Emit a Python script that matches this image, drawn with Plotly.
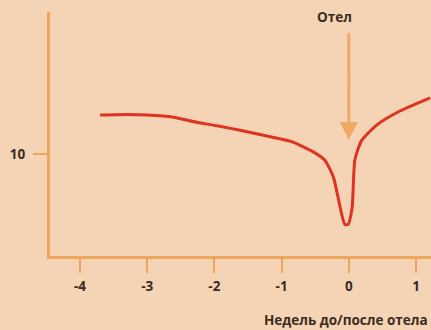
import plotly.graph_objects as go

# Weeks relative to calving and the measured level
weeks = [-3.70, -3.30, -3.00, -2.61, -2.30, -1.96, -1.60, -1.22, -0.85, -0.53, -0.36,
         -0.23, -0.13, -0.06, -0.01, 0.05, 0.09, 0.19, 0.41, 0.76, 1.21]
level = [13.8, 13.85, 13.8, 13.6, 13.15, 12.75, 12.3, 11.75, 11.2, 10.2, 9.4,
         7.75, 4.8, 3.1, 3.1, 4.8, 9.4, 11.3, 12.8, 14.2, 15.5]

x_ticks = [-4, -3, -2, -1, 0, 1]
y_ticks = [10]

calving_label = "Отел"
x_title = "Недель до/после отела"

bg = "#f5d4b6"
axis_col = "#f0a55a"
text_col = "#3b2b20"
font = "Open Sans"
fsize = 13.5

fig = go.Figure()
fig.add_trace(go.Scatter(
    x=weeks, y=level, mode="lines",
    line=dict(color="#e0331f", width=3, shape="spline", smoothing=0.6),
    hoverinfo="skip", cliponaxis=False,
))

fig.update_layout(
    width=431, height=330,
    margin=dict(l=50, r=0, t=12, b=74),
    paper_bgcolor=bg, plot_bgcolor=bg,
    showlegend=False,
    font=dict(family=font, color=text_col, size=fsize),
    xaxis=dict(
        range=[-4.446, 1.223], showgrid=False, zeroline=False,
        showline=True, linecolor=axis_col, linewidth=3,
        tickvals=x_ticks, ticktext=[str(v) for v in x_ticks],
        ticks="outside", ticklen=14, tickwidth=2, tickcolor=axis_col,
        tickfont=dict(family=font, size=fsize, color=text_col, weight="bold"),
        ticklabelstandoff=2,
    ),
    yaxis=dict(
        range=[0, 23.9], showgrid=False, zeroline=False,
        showline=True, linecolor=axis_col, linewidth=3,
        tickvals=y_ticks, ticktext=[str(v) for v in y_ticks],
        ticks="outside", ticklen=14, tickwidth=2, tickcolor=axis_col,
        tickfont=dict(family=font, size=fsize, color=text_col, weight="bold"),
        ticklabelstandoff=5,
    ),
)

# Calving marker: arrow pointing down at week 0
fig.add_annotation(
    x=0, y=11.37, ax=0, ay=21.96, axref="x", ayref="y",
    xref="x", yref="y", text="", showarrow=True,
    arrowhead=2, arrowsize=1.2, arrowwidth=3, arrowcolor="#f0a864",
)
fig.add_shape(type="line", x0=0, x1=0, y0=16.9, y1=17.5,
              line=dict(color="#fbf0e2", width=3), xref="x", yref="y")
fig.add_annotation(
    x=-0.22, y=(256 - 17) / 244, xref="x", yref="paper",
    xanchor="center", yanchor="middle",
    text="<b>" + calving_label + "</b>", showarrow=False,
    font=dict(family=font, size=fsize, color=text_col),
)

# Axis title below the tick labels, right-hand side
fig.add_annotation(
    x=(346 - 50) / 381, y=-(320 - 256) / 244, xref="paper", yref="paper",
    xanchor="center", yanchor="middle",
    text="<b>" + x_title + "</b>", showarrow=False,
    font=dict(family=font, size=fsize, color=text_col),
)

fig.write_html("out.html")
